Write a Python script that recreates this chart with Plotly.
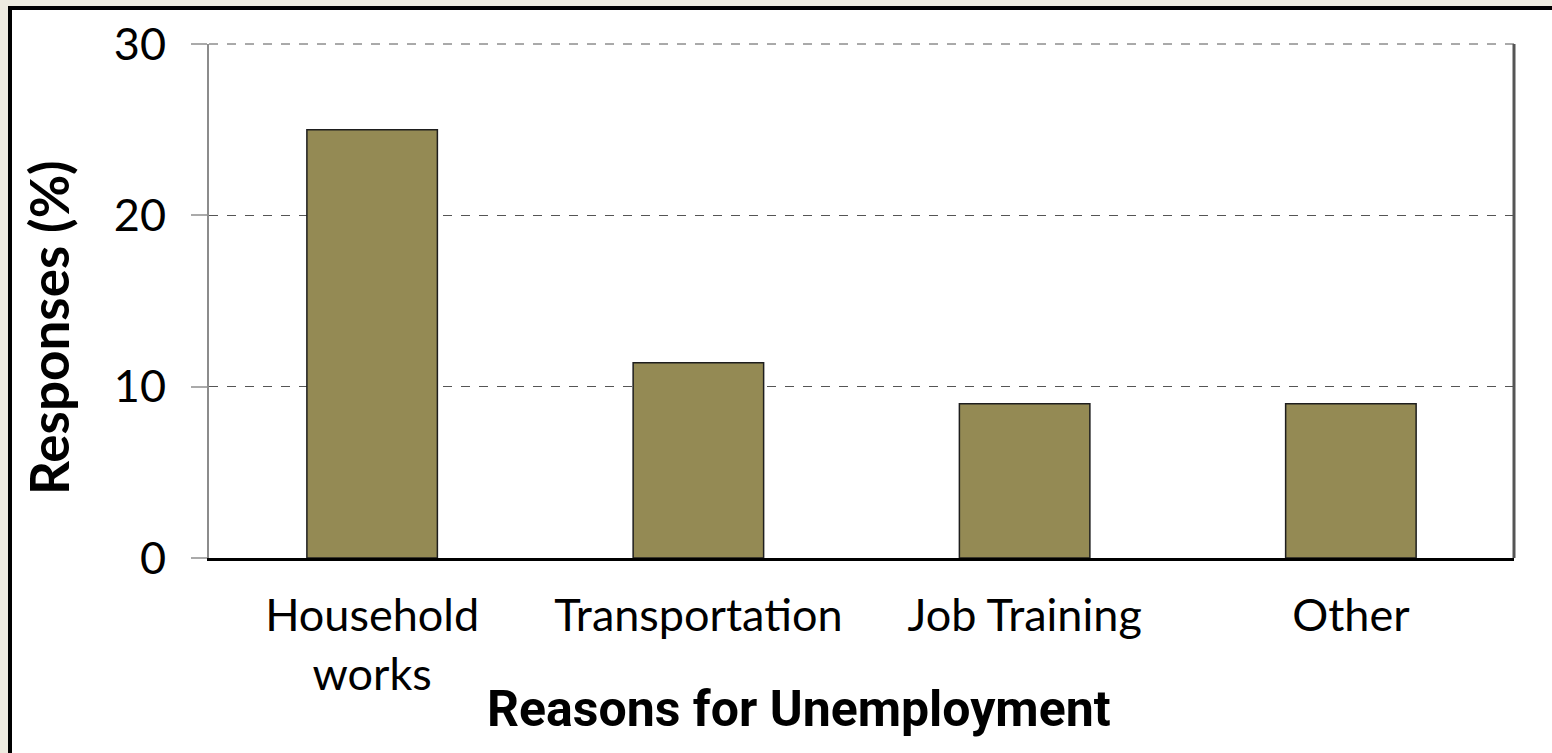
import plotly.graph_objects as go

# Survey results: reasons given for unemployment
categories = ["Household<br>works", "Transportation", "Job Training", "Other"]
responses = [25.0, 11.4, 9.0, 9.0]
y_ticks = [0, 10, 20, 30]

W, H = 1552, 753
L, R, T, B = 209, 1514, 44, 558  # plot area edges in pixels


def px(x):
    return (x - L) / (R - L)


def py(y):
    return (B - y) / (B - T)


fig = go.Figure()
fig.add_trace(go.Bar(
    x=categories,
    y=responses,
    width=0.4,
    marker=dict(color="#948A54", line=dict(color="#1E1E1E", width=1.5)),
))

fig.update_layout(
    width=W,
    height=H,
    margin=dict(l=L, r=W - R, t=T, b=H - B),
    paper_bgcolor="#EEEBE0",
    plot_bgcolor="#FFFFFF",
    showlegend=False,
    bargap=0.6,
    font=dict(family="Lato, 'Open Sans', sans-serif", color="#000000"),
    xaxis=dict(
        showgrid=False,
        showline=True,
        linecolor="#000000",
        linewidth=3,
        ticks="",
        tickfont=dict(size=45, family="Lato, sans-serif"),
        ticklabelstandoff=16,
    ),
    yaxis=dict(
        range=[0, 30],
        tickvals=y_ticks,
        showgrid=True,
        gridcolor="#555555",
        griddash="dash",
        gridwidth=1,
        showline=True,
        linecolor="#8C8C8C",
        linewidth=2,
        ticks="outside",
        ticklen=16,
        tickwidth=2,
        tickcolor="#AAAAAA",
        tickfont=dict(size=45, family="Lato, sans-serif"),
        ticklabelstandoff=16,
        zeroline=False,
    ),
    shapes=[
        # white card with heavy black frame
        dict(type="rect", xref="paper", yref="paper",
             x0=px(10), x1=px(1580), y0=py(8), y1=py(790),
             fillcolor="#FFFFFF", line=dict(color="#000000", width=4),
             layer="below"),
        # dashed gridline along the top edge
        dict(type="line", xref="paper", yref="paper",
             x0=0, x1=1, y0=1, y1=1,
             line=dict(color="#555555", width=1, dash="dash")),
        # right border of plot area
        dict(type="line", xref="paper", yref="paper",
             x0=1, x1=1, y0=0, y1=1,
             line=dict(color="#555555", width=3)),
    ],
    annotations=[
        dict(text="<b>Reasons for Unemployment</b>", xref="paper", yref="paper",
             x=px(799), y=py(709), xanchor="center", yanchor="middle",
             showarrow=False,
             font=dict(size=50, family="Roboto, sans-serif")),
        dict(text="<b>Responses (%)</b>", xref="paper", yref="paper",
             x=px(48), y=py(328), xanchor="center", yanchor="middle",
             textangle=-90, showarrow=False,
             font=dict(size=53, family="Lato, sans-serif")),
    ],
)

fig.write_html("out.html")
